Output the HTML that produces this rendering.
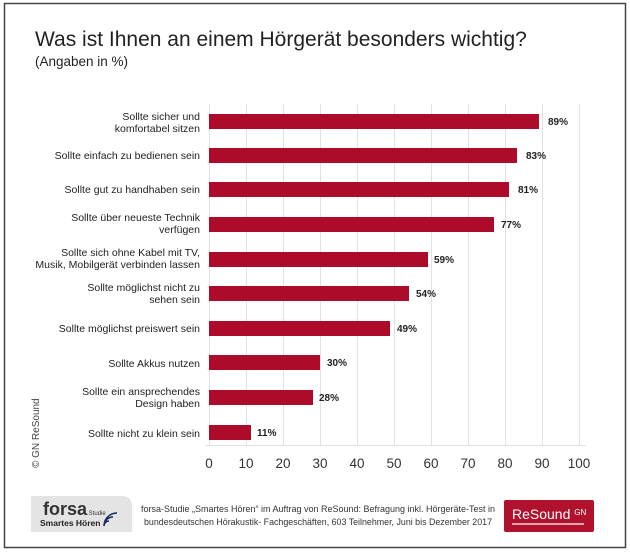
<!DOCTYPE html>
<html><head><meta charset="utf-8"><style>
html,body{margin:0;padding:0;background:#fff;}
svg{display:block;font-family:"Liberation Sans",sans-serif;}
</style></head><body>
<svg width="630" height="552" viewBox="0 0 630 552" xmlns="http://www.w3.org/2000/svg">
<rect x="0" y="0" width="630" height="552" fill="#fff"/>
<rect x="4.5" y="3.5" width="621" height="544" fill="none" stroke="#444" stroke-width="1.5"/>
<text x="35" y="46" font-size="21" fill="#222">Was ist Ihnen an einem Hörgerät besonders wichtig?</text>
<text x="35" y="66" font-size="13.5" fill="#222">(Angaben in %)</text>
<g stroke="#e2e2e2" stroke-width="1">
<line x1="209.5" y1="104" x2="209.5" y2="445"/><line x1="246.5" y1="104" x2="246.5" y2="445"/>
<line x1="283.5" y1="104" x2="283.5" y2="445"/><line x1="320.5" y1="104" x2="320.5" y2="445"/>
<line x1="357.5" y1="104" x2="357.5" y2="445"/><line x1="394.5" y1="104" x2="394.5" y2="445"/>
<line x1="431.5" y1="104" x2="431.5" y2="445"/><line x1="468.5" y1="104" x2="468.5" y2="445"/>
<line x1="505.5" y1="104" x2="505.5" y2="445"/><line x1="542.5" y1="104" x2="542.5" y2="445"/>
<line x1="579.5" y1="104" x2="579.5" y2="445"/>
<line x1="205" y1="445.5" x2="586" y2="445.5"/>
</g>
<g fill="#ad0b2a">
<rect x="209" y="114" width="330" height="15"/>
<rect x="209" y="148" width="308" height="15"/>
<rect x="209" y="182" width="300" height="15"/>
<rect x="209" y="217" width="285" height="15"/>
<rect x="209" y="252" width="219" height="15"/>
<rect x="209" y="286" width="200" height="15"/>
<rect x="209" y="321" width="181" height="15"/>
<rect x="209" y="355" width="111" height="15"/>
<rect x="209" y="390" width="104" height="15"/>
<rect x="209" y="425" width="42" height="15"/>
</g>
<g font-size="10" font-weight="bold" fill="#222">
<text x="548" y="125">89%</text><text x="526" y="159">83%</text><text x="518" y="193">81%</text>
<text x="501" y="228">77%</text><text x="434" y="263">59%</text><text x="416" y="297">54%</text>
<text x="397" y="332">49%</text><text x="327" y="366">30%</text><text x="319" y="401">28%</text>
<text x="257" y="436">11%</text>
</g>
<g font-size="10.5" fill="#222" text-anchor="end">
<text x="200" y="120">Sollte sicher und</text><text x="200" y="132">komfortabel sitzen</text>
<text x="200" y="159">Sollte einfach zu bedienen sein</text>
<text x="200" y="193">Sollte gut zu handhaben sein</text>
<text x="200" y="221">Sollte über neueste Technik</text><text x="200" y="233">verfügen</text>
<text x="200" y="256">Sollte sich ohne Kabel mit TV,</text><text x="200" y="268">Musik, Mobilgerät verbinden lassen</text>
<text x="200" y="291">Sollte möglichst nicht zu</text><text x="200" y="303">sehen sein</text>
<text x="200" y="332">Sollte möglichst preiswert sein</text>
<text x="200" y="367">Sollte Akkus nutzen</text>
<text x="200" y="395">Sollte ein ansprechendes</text><text x="200" y="407">Design haben</text>
<text x="200" y="437">Sollte nicht zu klein sein</text>
</g>
<g font-size="13.5" fill="#333" text-anchor="middle">
<text x="209" y="468">0</text><text x="246" y="468">10</text><text x="283" y="468">20</text>
<text x="320" y="468">30</text><text x="357" y="468">40</text><text x="394" y="468">50</text>
<text x="431" y="468">60</text><text x="468" y="468">70</text><text x="505" y="468">80</text>
<text x="542" y="468">90</text><text x="579" y="468">100</text>
</g>
<text transform="translate(39,468) rotate(-90)" font-size="10" fill="#444">© GN ReSound</text>
<path d="M31 496 H122 Q132 496 132 506 V532 H31 Z" fill="#e4e4e4"/>
<text x="43" y="515" font-size="18" font-weight="bold" fill="#333">forsa<tspan font-size="6" font-weight="normal">.Studie</tspan></text>
<text x="40" y="526" font-size="8.5" font-weight="bold" fill="#222">Smartes Hören</text>
<path d="M104 526 a5 5 0 0 1 5 -5 M104 526 a9 9 0 0 1 9 -9 M104 526 a13 13 0 0 1 13 -13" fill="none" stroke="#1a2a60" stroke-width="1.5"/>
<text x="141" y="512" font-size="9.5" fill="#333" textLength="354" lengthAdjust="spacingAndGlyphs">forsa-Studie „Smartes Hören“ im Auftrag von ReSound:  Befragung inkl. Hörgeräte-Test in</text>
<text x="144" y="525" font-size="9.5" fill="#333" textLength="348" lengthAdjust="spacingAndGlyphs">bundesdeutschen Hörakustik- Fachgeschäften, 603 Teilnehmer, Juni bis Dezember 2017</text>
<rect x="504" y="500" width="90" height="32" rx="2" fill="#b0112c"/>
<text x="512" y="519" font-size="14" fill="#fff">ReSound <tspan font-size="8" dy="-4">GN</tspan></text>
<line x1="512" y1="524" x2="584" y2="524" stroke="#fff" stroke-width="1.2"/>
</svg>
</body></html>
